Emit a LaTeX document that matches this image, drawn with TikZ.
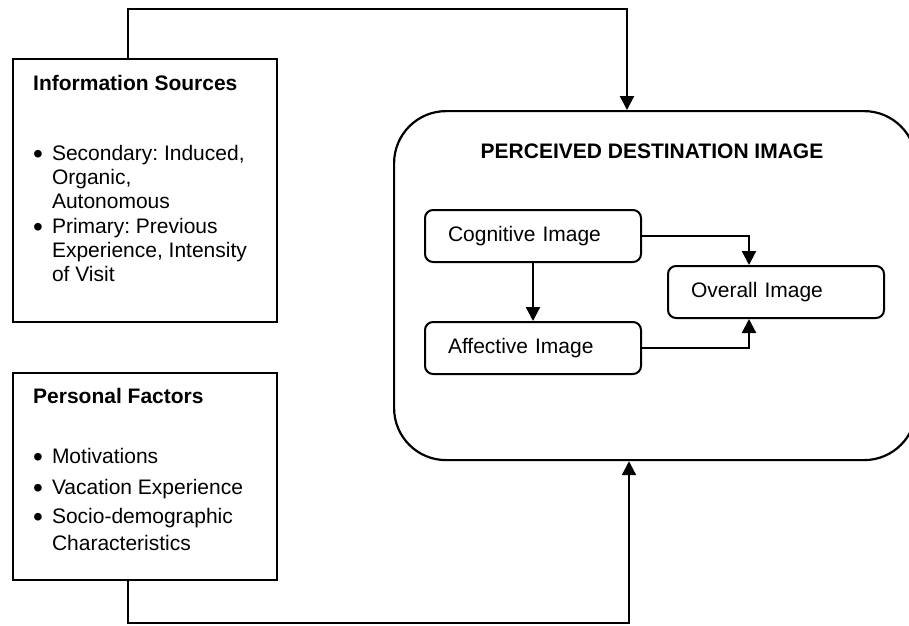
\documentclass[tikz,border=0pt]{standalone}
\usepackage{fontspec}
\setmainfont{Liberation Sans}
\usetikzlibrary{positioning,arrows.meta,calc}
\frenchspacing
\newcommand{\bul}{\raisebox{-3.5pt}{\fontsize{28}{24}\selectfont\textbullet}}
\tikzset{
  srcbox/.style={draw=black, line width=2.2pt, fill=white, minimum width=264pt,
                 anchor=north west, inner sep=0pt},
  bigbox/.style={draw=black, line width=2.2pt, rounded corners=52pt,
                 anchor=north west, inner sep=0pt},
  imgbox/.style={draw=black, line width=2pt, rounded corners=8pt, minimum width=216pt,
                 minimum height=52pt, text width=170pt, inner xsep=23pt, inner ysep=0pt,
                 align=left, font=\fontsize{21}{24}\selectfont},
  boxtitle/.style={font=\fontsize{21}{24}\selectfont\bfseries, inner sep=0pt},
  boxlist/.style={inner sep=0pt, anchor=base west},
  flow/.style={-{Triangle[length=14pt,width=14pt]}, line width=2.2pt},
}

\begin{document}
\begin{tikzpicture}[x=1pt, y=-1pt]
  \useasboundingbox (0,0) rectangle (909,625);
  \clip (0,0) rectangle (909,625);
  \node[srcbox, minimum height=263pt] (info) at (12,58) {};
  \node[srcbox, minimum height=207pt] (pers) at (12,372) {};
  \node[bigbox, minimum width=522pt, minimum height=349pt] (pdi) at (393,110) {};

  \node[boxtitle, anchor=base west] (infotitle) at (33,90) {Information Sources};
  \node[boxlist, font=\fontsize{21}{24}\selectfont] (infolist) at (33,160) {%
    \begin{tabular}[t]{@{}l@{\hspace{9pt}}l@{}}
      \bul & Secondary: Induced,\\ & Organic,\\ & Autonomous\\[1pt]
      \bul & Primary: Previous\\ & Experience, Intensity\\ & of Visit
    \end{tabular}};

  \node[boxtitle, anchor=base west] (perstitle) at (33,403) {Personal Factors};
  \node[boxlist, font=\fontsize{21}{27}\selectfont] (perslist) at (33,463) {%
    \begin{tabular}[t]{@{}l@{\hspace{9pt}}l@{}}
      \bul & Motivations\\[4pt]
      \bul & Vacation Experience\\[2pt]
      \bul & Socio-demographic\\ & Characteristics
    \end{tabular}};

  \node[boxtitle, anchor=base] (pdititle) at (652,158) {PERCEIVED DESTINATION IMAGE};
  \node[imgbox] (cog) at (533,236) {Cognitive Image};
  \node[imgbox, below=58pt of cog] (aff) {Affective Image};
  \coordinate (mid) at ($(cog.east)!0.5!(aff.east)$);
  \node[imgbox, right=25pt of mid] (ovr) {Overall Image};

  \draw[flow] (cog.south) -- (aff.north);
  \draw[flow] (cog.east) -| ([xshift=-27pt]ovr.north);
  \draw[flow] (aff.east) -| ([xshift=-27pt]ovr.south);

  \coordinate (topbend) at (627,9);
  \coordinate (botbend) at (629,623);
  \draw[flow] ([xshift=-17pt]info.north) |- (topbend) -- (topbend |- pdi.north);
  \draw[flow] ([xshift=-17pt]pers.south) |- (botbend) -- (botbend |- pdi.south);
\end{tikzpicture}
\end{document}
